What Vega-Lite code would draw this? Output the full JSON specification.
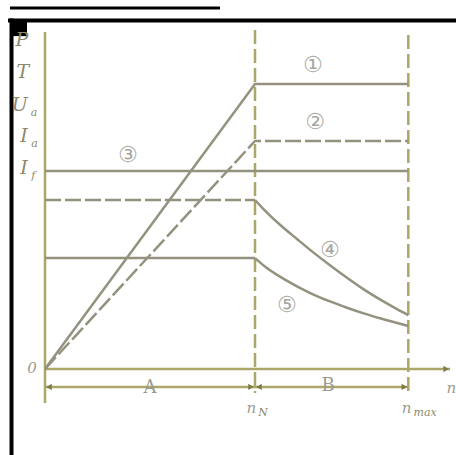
{
  "$schema": "https://vega.github.io/schema/vega-lite/v6.json",
  "width": 456,
  "height": 455,
  "autosize": {"type": "none"},
  "padding": 0,
  "background": "white",
  "config": {"view": {"stroke": null}},
  "datasets": {
    "curves": [
      {"s": "s1", "x": 0, "y": 0}, {"s": "s1", "x": 100, "y": 100}, {"s": "s1", "x": 173, "y": 100},
      {"s": "s2", "x": 0, "y": 0}, {"s": "s2", "x": 100, "y": 80}, {"s": "s2", "x": 173, "y": 80},
      {"s": "s3", "x": 0, "y": 69.5}, {"s": "s3", "x": 173, "y": 69.5},
      {"s": "s4a", "x": 0, "y": 59.3}, {"s": "s4a", "x": 100, "y": 59.3},
      {"s": "s4b", "x": 100, "y": 59.3}, {"s": "s4b", "x": 103.8, "y": 56.3}, {"s": "s4b", "x": 111.9, "y": 50.6},
      {"s": "s4b", "x": 120, "y": 45.6}, {"s": "s4b", "x": 127.6, "y": 41.0}, {"s": "s4b", "x": 135.7, "y": 36.4},
      {"s": "s4b", "x": 143.8, "y": 32.0}, {"s": "s4b", "x": 151.4, "y": 28.1}, {"s": "s4b", "x": 159.5, "y": 24.4},
      {"s": "s4b", "x": 167.6, "y": 21.0}, {"s": "s4b", "x": 173, "y": 18.9},
      {"s": "s5a", "x": 0, "y": 38.9}, {"s": "s5a", "x": 100, "y": 38.9},
      {"s": "s5b", "x": 100, "y": 38.9}, {"s": "s5b", "x": 105, "y": 35.8}, {"s": "s5b", "x": 111.9, "y": 32.4},
      {"s": "s5b", "x": 120, "y": 29.0}, {"s": "s5b", "x": 127.6, "y": 26.2}, {"s": "s5b", "x": 135.7, "y": 23.7},
      {"s": "s5b", "x": 143.8, "y": 21.5}, {"s": "s5b", "x": 151.4, "y": 19.6}, {"s": "s5b", "x": 159.5, "y": 17.8},
      {"s": "s5b", "x": 173, "y": 15.1}
    ],
    "guides": [
      {"s": "xaxis", "x": 0, "y": 0}, {"s": "xaxis", "x": 192.9, "y": 0},
      {"s": "yaxis", "x": 0, "y": 118.2}, {"s": "yaxis", "x": 0, "y": -11.9},
      {"s": "dim", "x": 0, "y": -6.3}, {"s": "dim", "x": 173, "y": -6.3},
      {"s": "nN", "x": 100, "y": 118.9}, {"s": "nN", "x": 100, "y": -8.4},
      {"s": "nmax", "x": 173, "y": 117.2}, {"s": "nmax", "x": 173, "y": -8.4}
    ],
    "frame": [
      {"s": "f1", "x": -16.67, "y": 126.67}, {"s": "f1", "x": 83.33, "y": 126.67},
      {"s": "f2", "x": -16.67, "y": 122.3}, {"s": "f2", "x": 195.7, "y": 122.3},
      {"s": "f3", "x": -15.95, "y": 122.3}, {"s": "f3", "x": -15.95, "y": -30.18}
    ],
    "arrowsL": [{"x": 0, "y": -6.3}, {"x": 100, "y": -6.3}],
    "arrowsR": [{"x": 100, "y": -6.3}, {"x": 173, "y": -6.3}, {"x": 192.9, "y": 0}],
    "ylabels": [
      {"t": "P", "x": -11, "y": 115.4},
      {"t": "T", "x": -10.5, "y": 104.2},
      {"t": "U", "x": -12, "y": 92.6},
      {"t": "I", "x": -10, "y": 81.8},
      {"t": "I", "x": -10, "y": 70.5}
    ],
    "subs": [
      {"t": "a", "x": -6.8, "y": 89.8},
      {"t": "a", "x": -6.5, "y": 78.9},
      {"t": "f", "x": -6.5, "y": 67.8},
      {"t": "N", "x": 101.5, "y": -15.3},
      {"t": "max", "x": 175.5, "y": -15.6}
    ],
    "nlabels": [
      {"t": "n", "x": 98.2, "y": -13.7},
      {"t": "n", "x": 172.2, "y": -13.7},
      {"t": "n", "x": 193.5, "y": -6.7},
      {"t": "0", "x": -6.2, "y": 0.3}
    ],
    "regions": [
      {"t": "A", "x": 50, "y": -6.6},
      {"t": "B", "x": 134.8, "y": -5.9}
    ],
    "circled": [
      {"t": "①", "x": 127.6, "y": 106.7},
      {"t": "②", "x": 128.6, "y": 86.7},
      {"t": "③", "x": 39.5, "y": 75.1},
      {"t": "④", "x": 135.7, "y": 41.8},
      {"t": "⑤", "x": 115.2, "y": 22.5}
    ]
  },
  "encoding": {
    "x": {"field": "x", "type": "quantitative", "scale": {"domain": [-21.43, 195.71], "nice": false, "zero": false}, "axis": null},
    "y": {"field": "y", "type": "quantitative", "scale": {"domain": [-30.18, 129.47], "nice": false, "zero": false}, "axis": null}
  },
  "layer": [
    {
      "data": {"name": "frame"},
      "transform": [{"filter": "datum.s === 'f1'"}],
      "mark": {"type": "line", "color": "black", "strokeWidth": 3, "strokeCap": "butt"},
      "encoding": {"detail": {"field": "s"}}
    },
    {
      "data": {"name": "frame"},
      "transform": [{"filter": "datum.s !== 'f1'"}],
      "mark": {"type": "line", "color": "black", "strokeWidth": 4, "strokeCap": "square"},
      "encoding": {"detail": {"field": "s"}}
    },
    {
      "data": {"values": [{"x": -16.67, "x2": -8.57, "y": 122.8, "y2": 116.8}]},
      "mark": {"type": "rect", "color": "black"},
      "encoding": {"x2": {"field": "x2"}, "y2": {"field": "y2"}}
    },
    {
      "data": {"name": "guides"},
      "transform": [{"filter": "datum.s === 'xaxis' || datum.s === 'yaxis' || datum.s === 'dim'"}],
      "mark": {"type": "line", "color": "#aba66a", "strokeWidth": 2.5},
      "encoding": {"detail": {"field": "s"}}
    },
    {
      "data": {"name": "guides"},
      "transform": [{"filter": "datum.s === 'nN' || datum.s === 'nmax'"}],
      "mark": {"type": "line", "color": "#aba66a", "strokeWidth": 2.5, "strokeDash": [14, 5]},
      "encoding": {"detail": {"field": "s"}}
    },
    {
      "data": {"name": "curves"},
      "transform": [{"filter": "datum.s === 's1' || datum.s === 's3' || datum.s === 's5a'"}],
      "mark": {"type": "line", "color": "#94927f", "strokeWidth": 2.5, "interpolate": "linear"},
      "encoding": {"detail": {"field": "s"}}
    },
    {
      "data": {"name": "curves"},
      "transform": [{"filter": "datum.s === 's4b' || datum.s === 's5b'"}],
      "mark": {"type": "line", "color": "#94927f", "strokeWidth": 2.5, "interpolate": "monotone"},
      "encoding": {"detail": {"field": "s"}}
    },
    {
      "data": {"name": "curves"},
      "transform": [{"filter": "datum.s === 's2' || datum.s === 's4a'"}],
      "mark": {"type": "line", "color": "#94927f", "strokeWidth": 2.5, "strokeDash": [16, 4]},
      "encoding": {"detail": {"field": "s"}}
    },
    {
      "data": {"name": "arrowsL"},
      "mark": {"type": "point", "shape": "triangle-left", "filled": true, "color": "#7d7a45", "size": 40, "xOffset": 4, "opacity": 1}
    },
    {
      "data": {"name": "arrowsR"},
      "mark": {"type": "point", "shape": "triangle-right", "filled": true, "color": "#7d7a45", "size": 40, "xOffset": -4, "opacity": 1}
    },
    {
      "data": {"name": "ylabels"},
      "mark": {"type": "text", "font": "DejaVu Serif", "fontStyle": "italic", "fontSize": 19, "color": "#8c8a6a", "align": "center", "baseline": "middle"},
      "encoding": {"text": {"field": "t"}}
    },
    {
      "data": {"name": "subs"},
      "mark": {"type": "text", "font": "DejaVu Serif", "fontStyle": "italic", "fontSize": 11, "color": "#8c8a6a", "align": "left", "baseline": "middle"},
      "encoding": {"text": {"field": "t"}}
    },
    {
      "data": {"name": "nlabels"},
      "mark": {"type": "text", "font": "DejaVu Serif", "fontStyle": "italic", "fontSize": 15, "color": "#9a9a90", "align": "center", "baseline": "middle"},
      "encoding": {"text": {"field": "t"}}
    },
    {
      "data": {"name": "regions"},
      "mark": {"type": "text", "font": "DejaVu Serif", "fontSize": 18, "color": "#9a9a90", "align": "center", "baseline": "middle"},
      "encoding": {"text": {"field": "t"}}
    },
    {
      "data": {"name": "circled"},
      "mark": {"type": "text", "font": "DejaVu Sans", "fontSize": 22, "color": "#a8a8a0", "align": "center", "baseline": "middle"},
      "encoding": {"text": {"field": "t"}}
    }
  ]
}
